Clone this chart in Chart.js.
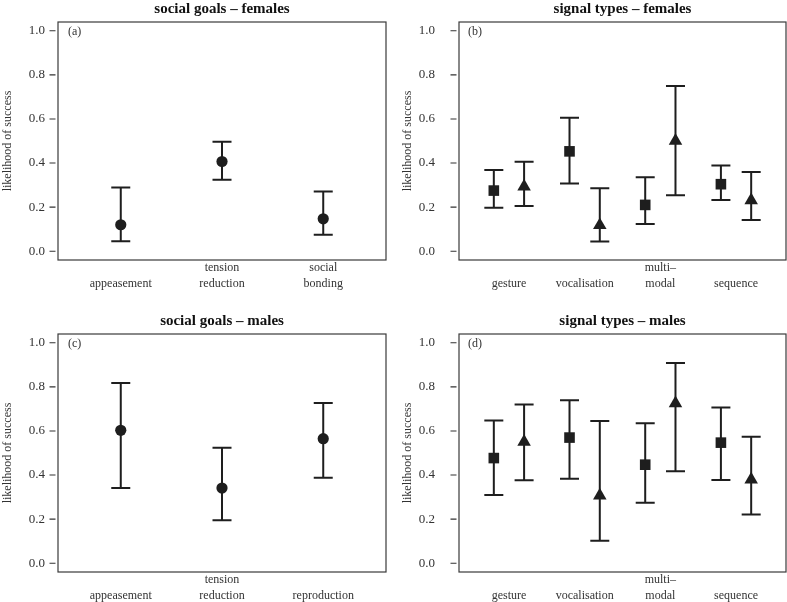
<!DOCTYPE html>
<html><head><meta charset="utf-8">
<script src="https://cdn.jsdelivr.net/npm/chart.js@4.4.1/dist/chart.umd.min.js"></script>
<style>
html,body{margin:0;padding:0;background:#fff;}
#wrap{position:relative;width:787px;height:602px;overflow:hidden;background:#fff;}
canvas{position:absolute;display:block;}
</style></head><body>
<div id="wrap">
<canvas id="ca" width="393" height="312" style="left:0;top:0"></canvas>
<canvas id="cb" width="401" height="312" style="left:393px;top:0"></canvas>
<canvas id="cc" width="393" height="290" style="left:0;top:312px"></canvas>
<canvas id="cd" width="401" height="290" style="left:393px;top:312px"></canvas>
</div>
<script>
// ---- data ----
const yTicks = [0, 0.2, 0.4, 0.6, 0.8, 1.0];

const goalsFemaleCats = [['', 'appeasement'], ['tension', 'reduction'], ['social', 'bonding']];
const goalsFemaleMean = [0.120, 0.407, 0.147];
const goalsFemaleLow  = [0.045, 0.324, 0.075];
const goalsFemaleHigh = [0.289, 0.497, 0.271];

const goalsMaleCats = [['', 'appeasement'], ['tension', 'reduction'], ['', 'reproduction']];
const goalsMaleMean = [0.603, 0.341, 0.565];
const goalsMaleLow  = [0.341, 0.195, 0.388];
const goalsMaleHigh = [0.818, 0.524, 0.727];

const signalCats = [['', 'gesture'], ['', 'vocalisation'], ['multi\u2013', 'modal'], ['', 'sequence']];

const sigFemSqMean  = [0.275, 0.453, 0.210, 0.304];
const sigFemSqLow   = [0.197, 0.307, 0.123, 0.232];
const sigFemSqHigh  = [0.368, 0.606, 0.335, 0.389];
const sigFemTriMean = [0.293, 0.118, 0.501, 0.231];
const sigFemTriLow  = [0.205, 0.044, 0.254, 0.141];
const sigFemTriHigh = [0.406, 0.286, 0.750, 0.359];

const sigMaleSqMean  = [0.477, 0.570, 0.447, 0.547];
const sigMaleSqLow   = [0.309, 0.383, 0.274, 0.377];
const sigMaleSqHigh  = [0.648, 0.739, 0.635, 0.706];
const sigMaleTriMean = [0.551, 0.307, 0.725, 0.379];
const sigMaleTriLow  = [0.376, 0.102, 0.417, 0.221];
const sigMaleTriHigh = [0.720, 0.645, 0.908, 0.574];

// ---- rendering ----
const SERIF = "'Liberation Serif', 'Times New Roman', serif";
const INK = '#1e1e1e';
const TXT = '#333';

const errorBars = {
  id: 'errorBars',
  beforeDatasetsDraw(chart) {
    const ctx = chart.ctx, ys = chart.scales.y;
    ctx.save();
    ctx.strokeStyle = INK; ctx.lineWidth = 2; ctx.lineCap = 'butt';
    chart.data.datasets.forEach((ds, i) => {
      const meta = chart.getDatasetMeta(i);
      meta.data.forEach((pt, j) => {
        const x = pt.x;
        const yl = ys.getPixelForValue(ds.low[j]);
        const yh = ys.getPixelForValue(ds.high[j]);
        const c = 9.5;
        ctx.beginPath();
        ctx.moveTo(x, yl); ctx.lineTo(x, yh);
        ctx.moveTo(x - c, yl); ctx.lineTo(x + c, yl);
        ctx.moveTo(x - c, yh); ctx.lineTo(x + c, yh);
        ctx.stroke();
      });
    });
    ctx.restore();
  }
};

const frame = {
  id: 'frame',
  afterDraw(chart, args, o) {
    const ctx = chart.ctx, a = chart.chartArea, ys = chart.scales.y;
    ctx.save();
    ctx.strokeStyle = '#3a3a3a'; ctx.lineWidth = 1.2;
    ctx.strokeRect(a.left, a.top, a.right - a.left, a.bottom - a.top);
    ctx.strokeStyle = TXT; ctx.lineWidth = 1.1;
    ctx.beginPath();
    ys.ticks.forEach(t => {
      const y = ys.getPixelForValue(t.value);
      ctx.moveTo(a.left - 8.5, y); ctx.lineTo(a.left - 2.5, y);
    });
    ctx.stroke();
    ctx.fillStyle = TXT;
    ctx.font = '12px ' + SERIF;
    ctx.textBaseline = 'middle'; ctx.textAlign = 'left';
    ctx.fillText(o.tag, a.left + o.tagDx, a.top + 10);
    ctx.restore();
  }
};

function zeroPad(s) { s.paddingTop = 0; s.paddingBottom = 0; s.paddingLeft = 0; s.paddingRight = 0; }

function makePanel(id, cfg) {
  const n = cfg.cats.length;
  const datasets = cfg.series.map(s => ({
    data: s.mean.map((v, j) => ({ x: j + 1 + s.offset, y: v })),
    low: s.low, high: s.high,
    pointStyle: s.style, pointRadius: s.radius, pointHoverRadius: s.radius,
    backgroundColor: INK, borderColor: INK, pointBorderWidth: 0
  }));
  new Chart(document.getElementById(id), {
    type: 'scatter',
    data: { datasets },
    options: {
      responsive: false, animation: false, events: [],
      layout: { padding: { left: 0, right: cfg.padRight, top: 0, bottom: 0 } },
      plugins: {
        legend: { display: false }, tooltip: { enabled: false },
        title: {
          display: true, text: cfg.title, fullSize: false, color: '#111',
          font: { family: SERIF, size: 15, weight: 'bold', lineHeight: '16px' },
          padding: { top: 1, bottom: 5 }
        },
        frame: { tag: cfg.tag, tagDx: cfg.tagDx }
      },
      scales: {
        x: {
          type: 'linear', position: 'bottom',
          min: 0.5 - 0.04 * n, max: n + 0.5 + 0.04 * n,
          afterBuildTicks: s => { s.ticks = cfg.cats.map((c, i) => ({ value: i + 1 })); },
          afterFit: s => { s.height = cfg.xAxisH; zeroPad(s); },
          grid: { display: false, drawTicks: false },
          border: { display: false },
          ticks: {
            autoSkip: false, maxRotation: 0, minRotation: 0, padding: 0.5,
            color: TXT, font: { family: SERIF, size: 12, lineHeight: 1.28 },
            callback: v => cfg.cats[Math.round(v) - 1]
          }
        },
        y: {
          type: 'linear', position: 'left', min: -0.04, max: 1.04,
          afterBuildTicks: s => { s.ticks = yTicks.map(v => ({ value: v })); },
          afterFit: s => { s.width = cfg.yAxisW; zeroPad(s); },
          grid: { display: false, drawTicks: false },
          border: { display: false },
          ticks: {
            padding: cfg.tickPad, color: TXT,
            font: { family: SERIF, size: 13 },
            callback: v => Number(v).toFixed(1)
          },
          title: {
            display: true, text: 'likelihood of success', color: TXT,
            font: { family: SERIF, size: 12, lineHeight: 1.2 },
            padding: { top: cfg.yTitlePad, bottom: 0 }
          }
        }
      }
    },
    plugins: [errorBars, frame]
  });
}

const CIRCLE_R = 5.6, SQ_R = 7.5, TRI_R = 7.8, OFF = 0.2;

makePanel('ca', {
  title: 'social goals \u2013 females', tag: '(a)', tagDx: 10, cats: goalsFemaleCats,
  padRight: 7, yAxisW: 58, xAxisH: 52, tickPad: 13, yTitlePad: 1,
  series: [{ mean: goalsFemaleMean, low: goalsFemaleLow, high: goalsFemaleHigh, style: 'circle', radius: CIRCLE_R, offset: 0 }]
});
makePanel('cb', {
  title: 'signal types \u2013 females', tag: '(b)', tagDx: 9, cats: signalCats,
  padRight: 8, yAxisW: 66, xAxisH: 52, tickPad: 24, yTitlePad: 8,
  series: [
    { mean: sigFemSqMean, low: sigFemSqLow, high: sigFemSqHigh, style: 'rect', radius: SQ_R, offset: -OFF },
    { mean: sigFemTriMean, low: sigFemTriLow, high: sigFemTriHigh, style: 'triangle', radius: TRI_R, offset: OFF }
  ]
});
makePanel('cc', {
  title: 'social goals \u2013 males', tag: '(c)', tagDx: 10, cats: goalsMaleCats,
  padRight: 7, yAxisW: 58, xAxisH: 30, tickPad: 13, yTitlePad: 1,
  series: [{ mean: goalsMaleMean, low: goalsMaleLow, high: goalsMaleHigh, style: 'circle', radius: CIRCLE_R, offset: 0 }]
});
makePanel('cd', {
  title: 'signal types \u2013 males', tag: '(d)', tagDx: 9, cats: signalCats,
  padRight: 8, yAxisW: 66, xAxisH: 30, tickPad: 24, yTitlePad: 8,
  series: [
    { mean: sigMaleSqMean, low: sigMaleSqLow, high: sigMaleSqHigh, style: 'rect', radius: SQ_R, offset: -OFF },
    { mean: sigMaleTriMean, low: sigMaleTriLow, high: sigMaleTriHigh, style: 'triangle', radius: TRI_R, offset: OFF }
  ]
});
</script>
</body></html>
